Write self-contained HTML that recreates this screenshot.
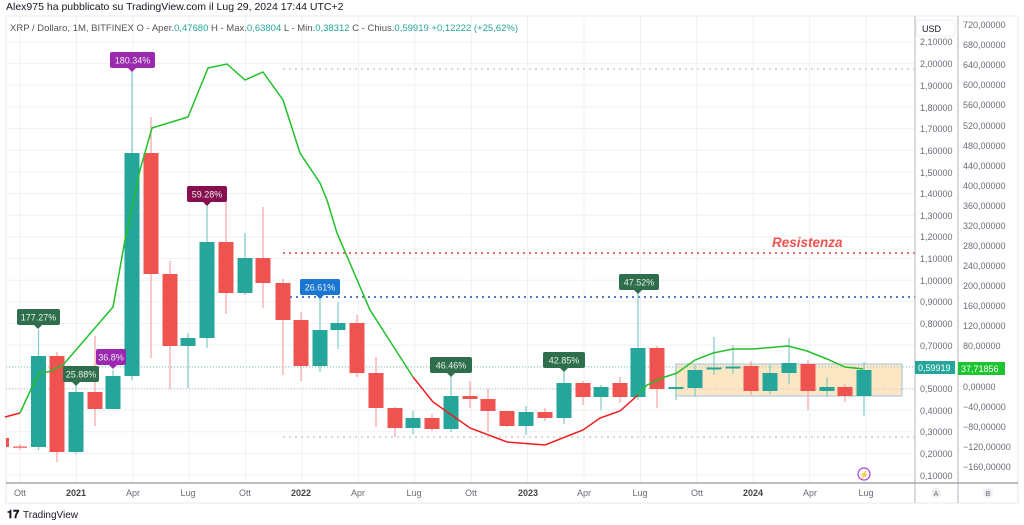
<!DOCTYPE html>
<html><head><meta charset="utf-8"><style>
body{margin:0;background:#fff;width:1024px;height:525px;overflow:hidden;font-family:"Liberation Sans",sans-serif}
svg{position:absolute;left:0;top:0}
</style></head><body>
<svg width="1024" height="525" viewBox="0 0 1024 525" font-family="Liberation Sans, sans-serif">
<text x="6" y="10" font-size="10.5" fill="#131722">Alex975 ha pubblicato su TradingView.com il Lug 29, 2024 17:44 UTC+2</text>
<rect x="6" y="16" width="1012" height="487" fill="#fff" stroke="#e8eaf0" stroke-width="1"/>
<g stroke="#eef1f6" stroke-width="1">
<line x1="6" x2="915" y1="42" y2="42"/><line x1="6" x2="915" y1="63.6" y2="63.6"/><line x1="6" x2="915" y1="85.3" y2="85.3"/><line x1="6" x2="915" y1="107" y2="107"/><line x1="6" x2="915" y1="128.6" y2="128.6"/><line x1="6" x2="915" y1="150.2" y2="150.2"/><line x1="6" x2="915" y1="171.9" y2="171.9"/><line x1="6" x2="915" y1="193.5" y2="193.5"/><line x1="6" x2="915" y1="215.2" y2="215.2"/><line x1="6" x2="915" y1="236.8" y2="236.8"/><line x1="6" x2="915" y1="258.5" y2="258.5"/><line x1="6" x2="915" y1="280.2" y2="280.2"/><line x1="6" x2="915" y1="301.8" y2="301.8"/><line x1="6" x2="915" y1="323.5" y2="323.5"/><line x1="6" x2="915" y1="345.1" y2="345.1"/><line x1="6" x2="915" y1="366.8" y2="366.8"/><line x1="6" x2="915" y1="388.4" y2="388.4"/><line x1="6" x2="915" y1="410.1" y2="410.1"/><line x1="6" x2="915" y1="431.7" y2="431.7"/><line x1="6" x2="915" y1="453.4" y2="453.4"/><line x1="6" x2="915" y1="475" y2="475"/>
<line x1="20" x2="20" y1="16" y2="483"/><line x1="76.4" x2="76.4" y1="16" y2="483"/><line x1="132.8" x2="132.8" y1="16" y2="483"/><line x1="189.2" x2="189.2" y1="16" y2="483"/><line x1="245.6" x2="245.6" y1="16" y2="483"/><line x1="302" x2="302" y1="16" y2="483"/><line x1="358.4" x2="358.4" y1="16" y2="483"/><line x1="414.8" x2="414.8" y1="16" y2="483"/><line x1="471.2" x2="471.2" y1="16" y2="483"/><line x1="527.6" x2="527.6" y1="16" y2="483"/><line x1="584" x2="584" y1="16" y2="483"/><line x1="640.4" x2="640.4" y1="16" y2="483"/><line x1="696.8" x2="696.8" y1="16" y2="483"/><line x1="753.2" x2="753.2" y1="16" y2="483"/><line x1="809.6" x2="809.6" y1="16" y2="483"/><line x1="866" x2="866" y1="16" y2="483"/>
</g>
<text x="10" y="31" font-size="9.5" fill="#555">XRP / Dollaro, 1M, BITFINEX  O - Aper.<tspan fill="#26a69a">0,47680</tspan>  H - Max.<tspan fill="#26a69a">0,63804</tspan>  L - Min.<tspan fill="#26a69a">0,38312</tspan>  C - Chius.<tspan fill="#26a69a">0,59919  +0,12222 (+25,62%)</tspan></text>
<!-- box -->
<rect x="676" y="364" width="226" height="32" fill="#fde6c3" stroke="#9fc3e6" stroke-width="1"/>
<!-- dotted lines -->
<g stroke-dasharray="2,4" stroke-width="1.6">
<line x1="283" x2="915" y1="69" y2="69" stroke="#c8ccd4"/>
<line x1="283" x2="915" y1="437" y2="437" stroke="#c8ccd4"/>
<line x1="283" x2="915" y1="253" y2="253" stroke="#e53935"/>
<line x1="290" x2="915" y1="297" y2="297" stroke="#1e4fb0"/>
</g>
<line x1="6" x2="915" y1="367" y2="367" stroke="#7fc8c0" stroke-dasharray="1,2" stroke-width="1"/>
<line x1="6" x2="915" y1="389" y2="389" stroke="#b7c3d0" stroke-dasharray="1,2" stroke-width="1"/>
<text x="772" y="247" font-size="13.5" font-weight="bold" font-style="italic" fill="#ef5350">Resistenza</text>
<!-- wicks -->
<g stroke-width="1.2">
<g stroke="#f5a3a3">
<line x1="20" x2="20" y1="444" y2="450"/><line x1="57" x2="57" y1="352" y2="462"/><line x1="95" x2="95" y1="336" y2="426"/><line x1="151" x2="151" y1="117" y2="358"/><line x1="170" x2="170" y1="261" y2="389"/><line x1="226" x2="226" y1="193" y2="314"/><line x1="263" x2="263" y1="207" y2="308"/><line x1="283" x2="283" y1="279" y2="375"/><line x1="301" x2="301" y1="312" y2="381"/><line x1="357" x2="357" y1="315" y2="377"/><line x1="376" x2="376" y1="357" y2="427"/><line x1="395" x2="395" y1="407" y2="437"/><line x1="432" x2="432" y1="414" y2="431"/><line x1="470" x2="470" y1="381" y2="408"/><line x1="488" x2="488" y1="389" y2="432"/><line x1="507" x2="507" y1="411" y2="427"/><line x1="545" x2="545" y1="408" y2="421"/><line x1="583" x2="583" y1="381" y2="405"/><line x1="620" x2="620" y1="377" y2="403"/><line x1="657" x2="657" y1="346" y2="408"/><line x1="751" x2="751" y1="361" y2="395"/><line x1="808" x2="808" y1="360" y2="410"/><line x1="845" x2="845" y1="384" y2="402"/>
</g>
<g stroke="#80cbc4">
<line x1="38.5" x2="38.5" y1="330" y2="450"/><line x1="76" x2="76" y1="386" y2="454"/><line x1="113" x2="113" y1="370" y2="380"/><line x1="132" x2="132" y1="68" y2="380"/><line x1="188" x2="188" y1="333" y2="388"/><line x1="207" x2="207" y1="205" y2="348"/><line x1="245" x2="245" y1="233" y2="295"/><line x1="320" x2="320" y1="296" y2="372"/><line x1="338" x2="338" y1="302" y2="349"/><line x1="413" x2="413" y1="411" y2="434"/><line x1="451" x2="451" y1="375" y2="432"/><line x1="526" x2="526" y1="406" y2="435"/><line x1="564" x2="564" y1="368" y2="424"/><line x1="601" x2="601" y1="385" y2="410"/><line x1="638" x2="638" y1="292" y2="400"/><line x1="676" x2="676" y1="369" y2="400"/><line x1="695" x2="695" y1="365" y2="397"/><line x1="714" x2="714" y1="337" y2="375"/><line x1="733" x2="733" y1="345" y2="374"/><line x1="770" x2="770" y1="364" y2="394"/><line x1="789" x2="789" y1="338" y2="384"/><line x1="827" x2="827" y1="377" y2="397"/><line x1="864" x2="864" y1="362" y2="416"/>
</g></g>
<!-- bodies -->
<g fill="#ef5350">
<rect x="6" y="438" width="3" height="9"/><rect x="13" y="446.5" width="14" height="1.2"/><rect x="49.5" y="356" width="15" height="96"/><rect x="87.5" y="392" width="15" height="17"/><rect x="143.5" y="153" width="15" height="121"/><rect x="162.5" y="274" width="15" height="72"/><rect x="218.5" y="242" width="15" height="51"/><rect x="255.5" y="258" width="15" height="25"/><rect x="275.5" y="283" width="15" height="37"/><rect x="293.5" y="320" width="15" height="46"/><rect x="349.5" y="323" width="15" height="50"/><rect x="368.5" y="373" width="15" height="35"/><rect x="387.5" y="408" width="15" height="20"/><rect x="424.5" y="418" width="15" height="11"/><rect x="462.5" y="396" width="15" height="3"/><rect x="480.5" y="399" width="15" height="12"/><rect x="499.5" y="411" width="15" height="15"/><rect x="537.5" y="412" width="15" height="6"/><rect x="575.5" y="383" width="15" height="14"/><rect x="612.5" y="383" width="15" height="14"/><rect x="649.5" y="348" width="15" height="41"/><rect x="743.5" y="366" width="15" height="25"/><rect x="800.5" y="364" width="15" height="27"/><rect x="837.5" y="387" width="15" height="9"/>
</g>
<g fill="#26a69a">
<rect x="31" y="356" width="15" height="91"/><rect x="68.5" y="392" width="15" height="60"/><rect x="105.5" y="376" width="15" height="33"/><rect x="124.5" y="153" width="15" height="223"/><rect x="180.5" y="338" width="15" height="8"/><rect x="199.5" y="242" width="15" height="96"/><rect x="237.5" y="258" width="15" height="35"/><rect x="312.5" y="330" width="15" height="36"/><rect x="330.5" y="323" width="15" height="7"/><rect x="405.5" y="418" width="15" height="10"/><rect x="443.5" y="396" width="15" height="33"/><rect x="518.5" y="412" width="15" height="14"/><rect x="556.5" y="383" width="15" height="35"/><rect x="593.5" y="387" width="15" height="10"/><rect x="630.5" y="348" width="15" height="49"/><rect x="668.5" y="387" width="15" height="2"/><rect x="687.5" y="370" width="15" height="18"/><rect x="706.5" y="367.5" width="15" height="2"/><rect x="725.5" y="366.5" width="15" height="2"/><rect x="762.5" y="373" width="15" height="18"/><rect x="781.5" y="363" width="15" height="10"/><rect x="819.5" y="387" width="15" height="4"/><rect x="856.5" y="370" width="15" height="26"/>
</g>
<!-- SMA -->
<polyline fill="none" stroke="#f01c1c" stroke-width="1.5" points="5,417 20,413"/>
<polyline fill="none" stroke="#22c02a" stroke-width="1.5" points="20,413 32,387 40,372 48,372 63,365 113,307 125,240 140,170 152,128 188,117 208,68 227,64 245,80 263,72 283,100 300,153 320,183 327,200 337,233 370,310 413,377"/>
<polyline fill="none" stroke="#f01c1c" stroke-width="1.5" points="413,377 433,402 470,428 507,442 545,445 583,430 600,418 620,411 638,395"/>
<polyline fill="none" stroke="#22c02a" stroke-width="1.5" points="638,395 647,385 665,377 677,373 695,360 713,353 733,349 753,349 788,346 807,351 827,359 845,367 863,369"/>
<!-- labels -->
<g font-size="9" fill="#e8f0ea" text-anchor="middle">
<rect x="17" y="309" width="43" height="16" rx="2" fill="#2e6e4c"/><path d="M34,325 l4,4 l4,-4z" fill="#2e6e4c"/><text x="38.5" y="320.5">177.27%</text>
<rect x="63" y="366" width="36" height="16" rx="2" fill="#2e6e4c"/><path d="M72,382 l4,4 l4,-4z" fill="#2e6e4c"/><text x="81" y="377.5">25.88%</text>
<rect x="96" y="349" width="30" height="16" rx="2" fill="#9c27b0"/><path d="M109,365 l4,4 l4,-4z" fill="#9c27b0"/><text x="111" y="360.5">36.8%</text>
<rect x="110" y="52" width="45" height="16" rx="2" fill="#9c27b0"/><path d="M128,68 l4,4 l4,-4z" fill="#9c27b0"/><text x="132.5" y="63.5">180.34%</text>
<rect x="187" y="186" width="40" height="16" rx="2" fill="#880e4f"/><path d="M203,202 l4,4 l4,-4z" fill="#880e4f"/><text x="207" y="197.5">59.28%</text>
<rect x="300" y="279" width="40" height="16" rx="2" fill="#1976d2"/><path d="M316,295 l4,4 l4,-4z" fill="#1976d2"/><text x="320" y="290.5">26.61%</text>
<rect x="430" y="357" width="42" height="16" rx="2" fill="#2e6e4c"/><path d="M447,373 l4,4 l4,-4z" fill="#2e6e4c"/><text x="451" y="368.5">46.46%</text>
<rect x="543" y="352" width="42" height="16" rx="2" fill="#2e6e4c"/><path d="M560,368 l4,4 l4,-4z" fill="#2e6e4c"/><text x="564" y="363.5">42.85%</text>
<rect x="619" y="274" width="40" height="16" rx="2" fill="#2e6e4c"/><path d="M634,290 l4,4 l4,-4z" fill="#2e6e4c"/><text x="639" y="285.5">47.52%</text>
</g>
<circle cx="864" cy="474" r="6" fill="none" stroke="#b03cd0" stroke-width="1.2"/><text x="864" y="477.5" font-size="8" fill="#b03cd0" text-anchor="middle">⚡</text>
<!-- axes -->
<line x1="915" x2="915" y1="16" y2="503" stroke="#b2b5be"/>
<line x1="958" x2="958" y1="16" y2="503" stroke="#b2b5be"/>
<line x1="6" x2="1018" y1="483" y2="483" stroke="#9598a1" stroke-width="1.2"/>
<rect x="916" y="20" width="39" height="16" rx="3" fill="#fff" stroke="#eceef2"/>
<text x="922" y="32" font-size="9" fill="#131722">USD</text>
<g font-size="9" fill="#6a6d78">
<text x="920" y="45">2,10000</text><text x="920" y="67">2,00000</text><text x="920" y="89">1,90000</text><text x="920" y="111">1,80000</text><text x="920" y="132">1,70000</text><text x="920" y="154">1,60000</text><text x="920" y="176">1,50000</text><text x="920" y="197">1,40000</text><text x="920" y="219">1,30000</text><text x="920" y="240">1,20000</text><text x="920" y="262">1,10000</text><text x="920" y="284">1,00000</text><text x="920" y="305">0,90000</text><text x="920" y="327">0,80000</text><text x="920" y="349">0,70000</text><text x="920" y="392">0,50000</text><text x="920" y="414">0,40000</text><text x="920" y="435">0,30000</text><text x="920" y="457">0,20000</text><text x="920" y="479">0,10000</text>
<text x="963" y="28">720,00000</text><text x="963" y="48">680,00000</text><text x="963" y="68">640,00000</text><text x="963" y="88">600,00000</text><text x="963" y="108">560,00000</text><text x="963" y="129">520,00000</text><text x="963" y="149">480,00000</text><text x="963" y="169">440,00000</text><text x="963" y="189">400,00000</text><text x="963" y="209">360,00000</text><text x="963" y="229">320,00000</text><text x="963" y="249">280,00000</text><text x="963" y="269">240,00000</text><text x="963" y="289">200,00000</text><text x="963" y="309">160,00000</text><text x="963" y="329">120,00000</text><text x="963" y="349">80,00000</text><text x="963" y="390">0,00000</text><text x="963" y="410">−40,00000</text><text x="963" y="430">−80,00000</text><text x="963" y="450">−120,00000</text><text x="963" y="470">−160,00000</text>
</g>
<rect x="915" y="361" width="40" height="13" fill="#26a69a"/><text x="918" y="371" font-size="9" fill="#fff">0,59919</text>
<rect x="958" y="362" width="47" height="13" fill="#1fc431"/><text x="961" y="372" font-size="9" fill="#fff">37,71856</text>
<circle cx="936" cy="493" r="5" fill="#eceef2"/><text x="936" y="496" font-size="7" fill="#666" text-anchor="middle">A</text>
<circle cx="988" cy="493" r="5" fill="#eceef2"/><text x="988" y="496" font-size="7" fill="#666" text-anchor="middle">B</text>
<g font-size="9" fill="#6a6d78" text-anchor="middle">
<text x="20" y="496">Ott</text><text x="76" y="496" font-weight="bold" fill="#444">2021</text><text x="133" y="496">Apr</text><text x="188" y="496">Lug</text><text x="245" y="496">Ott</text><text x="301" y="496" font-weight="bold" fill="#444">2022</text><text x="358" y="496">Apr</text><text x="414" y="496">Lug</text><text x="471" y="496">Ott</text><text x="528" y="496" font-weight="bold" fill="#444">2023</text><text x="584" y="496">Apr</text><text x="640" y="496">Lug</text><text x="697" y="496">Ott</text><text x="753" y="496" font-weight="bold" fill="#444">2024</text><text x="810" y="496">Apr</text><text x="866" y="496">Lug</text>
</g>
<text x="7" y="518" font-size="11" font-weight="bold" fill="#131722">𝟏𝟕</text>
<text x="23" y="518" font-size="10" fill="#131722">TradingView</text>
</svg>
</body></html>
